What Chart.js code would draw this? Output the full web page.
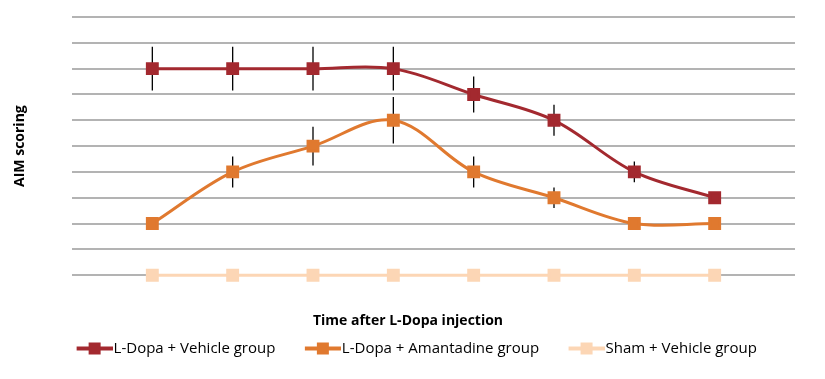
<!DOCTYPE html>
<html><head><meta charset="utf-8">
<script src="https://cdn.jsdelivr.net/npm/chart.js@4/dist/chart.umd.min.js"></script>
<style>html,body{margin:0;padding:0;background:#fff}#wrap{width:825px;height:379px}</style>
</head><body><div id="wrap"><canvas id="c" width="825" height="379"></canvas></div>
<script>
const timePoints = [1, 2, 3, 4, 5, 6, 7, 8];
const vehicleValues = [8, 8, 8, 8, 7, 6, 4, 3];
const vehicleErrors = [0.85, 0.85, 0.85, 0.85, 0.7, 0.6, 0.4, 0.2];
const amantadineValues = [2, 4, 5, 6, 4, 3, 2, 2];
const amantadineErrors = [0.2, 0.6, 0.75, 0.9, 0.6, 0.4, 0.15, 0.15];
const shamValues = [0, 0, 0, 0, 0, 0, 0, 0];
const shamErrors = [0, 0, 0, 0, 0, 0, 0, 0];
const seriesNames = ['L-Dopa + Vehicle group', 'L-Dopa + Amantadine group', 'Sham + Vehicle group'];
const colors = ['#A3292F', '#E0792F', '#FCD6B5'];

// legend icon: transparent lead-in, then line with square marker, touching the text
function legendIcon(color) {
  const cv = document.createElement('canvas');
  cv.width = 60; cv.height = 14;
  const g = cv.getContext('2d');
  g.strokeStyle = color; g.lineWidth = 4;
  g.beginPath(); g.moveTo(24, 7); g.lineTo(60, 7); g.stroke();
  g.fillStyle = color; g.fillRect(36, 1, 12, 12);
  return cv;
}

function mk(label, vals, errs, color) {
  return {
    label, data: vals.map((v, i) => ({x: timePoints[i], y: v})), errors: errs,
    borderColor: color, backgroundColor: color, borderWidth: 3,
    pointStyle: 'rect', pointRadius: 7, pointHoverRadius: 7,
    pointBackgroundColor: color, pointBorderColor: color,
    tension: 0.35, clip: false, legendIcon: legendIcon(color)
  };
}

const errorBars = {
  id: 'errorBars',
  beforeDatasetsDraw(chart) {
    const ctx = chart.ctx, y = chart.scales.y;
    ctx.save();
    ctx.strokeStyle = '#000'; ctx.lineWidth = 1.3;
    chart.data.datasets.forEach((ds, di) => {
      const meta = chart.getDatasetMeta(di);
      meta.data.forEach((pt, i) => {
        const e = ds.errors[i]; if (!e) return;
        const v = ds.data[i].y;
        ctx.beginPath();
        ctx.moveTo(pt.x, y.getPixelForValue(v + e));
        ctx.lineTo(pt.x, y.getPixelForValue(v - e));
        ctx.stroke();
      });
    });
    ctx.restore();
  }
};

new Chart(document.getElementById('c'), {
  type: 'line',
  data: { datasets: [
    mk(seriesNames[0], vehicleValues, vehicleErrors, colors[0]),
    mk(seriesNames[1], amantadineValues, amantadineErrors, colors[1]),
    mk(seriesNames[2], shamValues, shamErrors, colors[2])
  ]},
  options: {
    responsive: false, animation: false,
    layout: { padding: { left: 21, right: 30, top: 17, bottom: 13 } },
    scales: {
      x: { type: 'linear', min: 0, max: 9,
        ticks: { display: false }, grid: { display: false }, border: { display: false },
        afterFit(s) { s.height = 0; } },
      y: { min: 0, max: 10, ticks: { display: false, stepSize: 1 },
        grid: { color: '#b3b3b3', lineWidth: 2, drawTicks: false }, border: { display: false },
        title: { display: true, text: 'AIM scoring', color: '#000', padding: { top: -9, bottom: 0 },
          font: { family: 'Open Sans', size: 14, weight: 'bold' } },
        afterFit(s) { s.width = 51; } }
    },
    plugins: {
      tooltip: { enabled: false },
      title: { display: true, position: 'bottom', weight: 500, text: 'Time after L-Dopa injection',
        color: '#000', font: { family: 'Open Sans', size: 14, weight: 'bold' },
        padding: { top: 37, bottom: 0 } },
      legend: { position: 'bottom',
        labels: { usePointStyle: true, pointStyleWidth: 47, color: '#333', padding: 12,
          font: { family: 'Open Sans', size: 15 },
          generateLabels(chart) {
            return chart.data.datasets.map((ds, i) => ({
              text: ds.label, pointStyle: ds.legendIcon, fillStyle: ds.borderColor,
              strokeStyle: ds.borderColor, lineWidth: 0, datasetIndex: i, hidden: false
            }));
          } } }
    }
  },
  plugins: [errorBars]
});
</script></body></html>
